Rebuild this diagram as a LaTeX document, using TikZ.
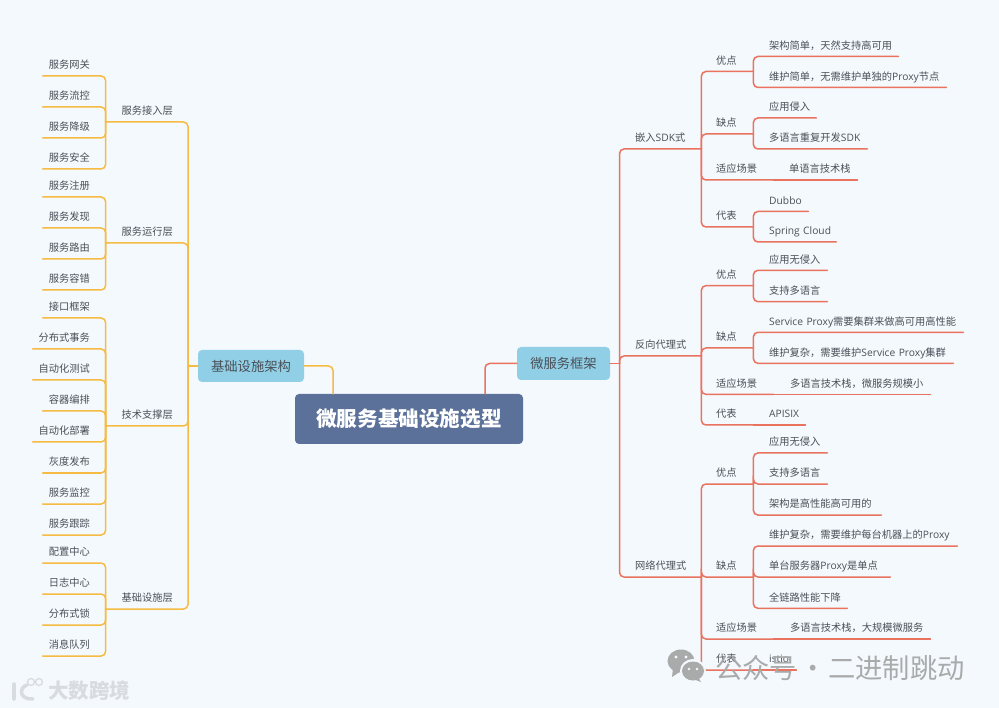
\documentclass[tikz,border=0pt]{standalone}
\usepackage{fontspec}
\setmainfont{Noto Sans CJK SC}
\newfontfamily\latn{Open Sans}
\definecolor{pagebg}{HTML}{F4F9FE}
\definecolor{rootblue}{HTML}{5B7199}
\definecolor{boxblue}{HTML}{90CFE5}
\definecolor{inkgray}{HTML}{4B5058}
\definecolor{redline}{HTML}{E9735F}
\definecolor{yelline}{HTML}{F6BB43}
\definecolor{markgray}{HTML}{A9ABAB}
\definecolor{marklight}{HTML}{D9DCDF}
\tikzset{
  rline/.style={draw=redline,line width=1.5pt,line cap=round},
  yline/.style={draw=yelline,line width=1.5pt,line cap=round},
  rjoin/.style={rline,rounded corners=4.5pt},
  yjoin/.style={yline,rounded corners=4.5pt},
  label/.style={inner sep=0pt,text=inkgray,text height=9pt,text depth=7pt,
    font=\fontsize{10.25}{12}\selectfont},
  rtopic/.style={label,anchor=south west,align=left,text width=#1},
  ytopic/.style={label,anchor=south east,align=right,text width=#1},
  midbox/.style={fill=boxblue,rounded corners=4pt,text=inkgray,inner sep=0pt,
    font=\fontsize{13.3}{15}\selectfont},
}
\begin{document}
\begin{tikzpicture}[x=1pt,y=-1pt]
  \useasboundingbox (0,0) rectangle (999,708);
  \fill[pagebg] (0,0) rectangle (999,708);
  % Centre
  \node[fill=rootblue,rounded corners=4pt,text=white,minimum width=228pt,minimum height=50pt,inner sep=0pt,
    font=\fontsize{20.6}{24}\selectfont\bfseries] (root) at (409,419) {微服务基础设施选型};
  \node[midbox,minimum width=106pt,minimum height=32pt] (infra) at (251,366) {基础设施架构};
  \node[midbox,minimum width=93pt,minimum height=33pt] (frame) at (563.5,363.5) {微服务框架};
  \coordinate (rootl) at (333,394);
  \coordinate (rootr) at (485,394);
  \coordinate (ltrunk) at (188,366);
  \coordinate (rtrunk) at (619.5,363.5);
  \draw[yjoin] (rootl) |- (infra.east);
  \draw[rjoin] (rootr) |- (frame.west);
  \draw[yline] (infra.west) -- (ltrunk);
  \draw[rline] (frame.east) -- (rtrunk);
  % Left side, second level
  \node[ytopic=67pt] (access) at (173,122) {服务接入层};
  \node[ytopic=67pt] (runtime) at (173,243) {服务运行层};
  \node[ytopic=67pt] (support) at (173,426) {技术支撑层};
  \node[ytopic=67pt] (base) at (173,609) {基础设施层};
  \draw[yjoin] (ltrunk) |- (access.south east) -- (access.south west);
  \draw[yjoin] (ltrunk) |- (runtime.south east) -- (runtime.south west);
  \draw[yjoin] (ltrunk) |- (support.south east) -- (support.south west);
  \draw[yjoin] (ltrunk) |- (base.south east) -- (base.south west);
  % Left side, leaves
  \node[ytopic=47pt] (gateway) at (90,76) {服务网关};
  \node[ytopic=47pt] (flowctl) at (90,107) {服务流控};
  \node[ytopic=47pt] (degrade) at (90,138) {服务降级};
  \node[ytopic=47pt] (secure) at (90,169) {服务安全};
  \node[ytopic=47pt] (regist) at (90,197) {服务注册};
  \node[ytopic=47pt] (discover) at (90,228) {服务发现};
  \node[ytopic=47pt] (routing) at (90,259) {服务路由};
  \node[ytopic=47pt] (faulttol) at (90,290) {服务容错};
  \node[ytopic=47pt] (iface) at (90,318) {接口框架};
  \node[ytopic=57pt] (distx) at (90,349) {分布式事务};
  \node[ytopic=57pt] (autotest) at (90,380) {自动化测试};
  \node[ytopic=47pt] (orch) at (90,411) {容器编排};
  \node[ytopic=57pt] (autodep) at (90,442) {自动化部署};
  \node[ytopic=47pt] (gray) at (90,473) {灰度发布};
  \node[ytopic=47pt] (monitor) at (90,504) {服务监控};
  \node[ytopic=47pt] (trace) at (90,535) {服务跟踪};
  \node[ytopic=47pt] (config) at (90,563) {配置中心};
  \node[ytopic=47pt] (logs) at (90,594) {日志中心};
  \node[ytopic=47pt] (dlock) at (90,625) {分布式锁};
  \node[ytopic=47pt] (mqueue) at (90,656) {消息队列};
  \draw[yjoin] (access.south west) |- (gateway.south east) -- (gateway.south west);
  \draw[yjoin] (access.south west) |- (flowctl.south east) -- (flowctl.south west);
  \draw[yjoin] (access.south west) |- (degrade.south east) -- (degrade.south west);
  \draw[yjoin] (access.south west) |- (secure.south east) -- (secure.south west);
  \draw[yjoin] (runtime.south west) |- (regist.south east) -- (regist.south west);
  \draw[yjoin] (runtime.south west) |- (discover.south east) -- (discover.south west);
  \draw[yjoin] (runtime.south west) |- (routing.south east) -- (routing.south west);
  \draw[yjoin] (runtime.south west) |- (faulttol.south east) -- (faulttol.south west);
  \draw[yjoin] (support.south west) |- (iface.south east) -- (iface.south west);
  \draw[yjoin] (support.south west) |- (distx.south east) -- (distx.south west);
  \draw[yjoin] (support.south west) |- (autotest.south east) -- (autotest.south west);
  \draw[yjoin] (support.south west) |- (orch.south east) -- (orch.south west);
  \draw[yjoin] (support.south west) |- (autodep.south east) -- (autodep.south west);
  \draw[yjoin] (support.south west) |- (gray.south east) -- (gray.south west);
  \draw[yjoin] (support.south west) |- (monitor.south east) -- (monitor.south west);
  \draw[yjoin] (support.south west) |- (trace.south east) -- (trace.south west);
  \draw[yjoin] (base.south west) |- (config.south east) -- (config.south west);
  \draw[yjoin] (base.south west) |- (logs.south east) -- (logs.south west);
  \draw[yjoin] (base.south west) |- (dlock.south east) -- (dlock.south west);
  \draw[yjoin] (base.south west) |- (mqueue.south east) -- (mqueue.south west);
  % Right side, second level
  \node[rtopic=66pt] (sdk) at (635,149) {嵌入{\latn SDK}式};
  \node[rtopic=66pt] (revproxy) at (635,356) {反向代理式};
  \node[rtopic=66pt] (netproxy) at (635,577) {网络代理式};
  \draw[rjoin] (rtrunk) |- (sdk.south west) -- (sdk.south east);
  \draw[rjoin] (rtrunk) |- (revproxy.south west) -- (revproxy.south east);
  \draw[rjoin] (rtrunk) |- (netproxy.south west) -- (netproxy.south east);
  % Embedded SDK
  \node[rtopic=37pt] (sdkgood) at (716,71.5) {优点};
  \node[rtopic=37pt] (sdkbad) at (716,134) {缺点};
  \node[rtopic=57pt] (sdkuse) at (716,180) {适应场景};
  \node[rtopic=37pt] (sdkrep) at (716,227) {代表};
  \draw[rjoin] (sdk.south east) |- (sdkgood.south west) -- (sdkgood.south east);
  \draw[rjoin] (sdk.south east) |- (sdkbad.south west) -- (sdkbad.south east);
  \draw[rjoin] (sdk.south east) |- (sdkuse.south west) -- (sdkuse.south east);
  \draw[rjoin] (sdk.south east) |- (sdkrep.south west) -- (sdkrep.south east);
  \node[rtopic=129pt] (sdkgooda) at (769,56.5) {架构简单，天然支持高可用};
  \node[rtopic=177pt] (sdkgoodb) at (769,87.5) {维护简单，无需维护单独的{\latn Proxy}节点};
  \node[rtopic=47pt] (sdkbada) at (769,118) {应用侵入};
  \node[rtopic=98pt] (sdkbadb) at (769,149) {多语言重复开发{\latn SDK}};
  \node[rtopic=68pt] (sdkusea) at (789,180) {单语言技术栈};
  \node[rtopic=39pt] (dubbo) at (769,211.5) {\latn Dubbo};
  \node[rtopic=67pt] (spring) at (769,242) {\latn Spring~Cloud};
  \draw[rjoin] (sdkgood.south east) |- (sdkgooda.south west) -- (sdkgooda.south east);
  \draw[rjoin] (sdkgood.south east) |- (sdkgoodb.south west) -- (sdkgoodb.south east);
  \draw[rjoin] (sdkbad.south east) |- (sdkbada.south west) -- (sdkbada.south east);
  \draw[rjoin] (sdkbad.south east) |- (sdkbadb.south west) -- (sdkbadb.south east);
  \draw[rline] (sdkuse.south east) -- (sdkusea.south west) -- (sdkusea.south east);
  \draw[rjoin] (sdkrep.south east) |- (dubbo.south west) -- (dubbo.south east);
  \draw[rjoin] (sdkrep.south east) |- (spring.south west) -- (spring.south east);
  % Reverse proxy
  \node[rtopic=37pt] (revgood) at (716,285.7) {优点};
  \node[rtopic=37pt] (revbad) at (716,348) {缺点};
  \node[rtopic=57pt] (revuse) at (716,394.3) {适应场景};
  \node[rtopic=37pt] (revrep) at (716,425) {代表};
  \draw[rjoin] (revproxy.south east) |- (revgood.south west) -- (revgood.south east);
  \draw[rjoin] (revproxy.south east) |- (revbad.south west) -- (revbad.south east);
  \draw[rjoin] (revproxy.south east) |- (revuse.south west) -- (revuse.south east);
  \draw[rjoin] (revproxy.south east) |- (revrep.south west) -- (revrep.south east);
  \node[rtopic=58pt] (revgooda) at (769,270.3) {应用无侵入};
  \node[rtopic=58pt] (revgoodb) at (769,301.7) {支持多语言};
  \node[rtopic=194pt] (revbada) at (769,332.3) {{\latn Service~Proxy}需要集群来做高可用高性能};
  \node[rtopic=184pt] (revbadb) at (769,363.3) {维护复杂，需要维护{\latn Service~Proxy}集群};
  \node[rtopic=140pt] (revusea) at (790,394.3) {多语言技术栈，微服务规模小};
  \node[rtopic=36pt] (apisix) at (769,425) {\latn APISIX};
  \draw[rjoin] (revgood.south east) |- (revgooda.south west) -- (revgooda.south east);
  \draw[rjoin] (revgood.south east) |- (revgoodb.south west) -- (revgoodb.south east);
  \draw[rjoin] (revbad.south east) |- (revbada.south west) -- (revbada.south east);
  \draw[rjoin] (revbad.south east) |- (revbadb.south west) -- (revbadb.south east);
  \draw[rline] (revuse.south east) -- (revusea.south west) -- (revusea.south east);
  \draw[rline] (revrep.south east) -- (apisix.south west) -- (apisix.south east);
  % Network proxy
  \node[rtopic=37pt] (netgood) at (716,484) {优点};
  \node[rtopic=37pt] (netbad) at (716,577) {缺点};
  \node[rtopic=57pt] (netuse) at (716,639) {适应场景};
  \node[rtopic=37pt] (netrep) at (716,670) {代表};
  \draw[rjoin] (netproxy.south east) |- (netgood.south west) -- (netgood.south east);
  \draw[rjoin] (netproxy.south east) |- (netbad.south west) -- (netbad.south east);
  \draw[rjoin] (netproxy.south east) |- (netuse.south west) -- (netuse.south east);
  \draw[rjoin] (netproxy.south east) |- (netrep.south west) -- (netrep.south east);
  \node[rtopic=58pt] (netgooda) at (769,453) {应用无侵入};
  \node[rtopic=58pt] (netgoodb) at (769,484) {支持多语言};
  \node[rtopic=112pt] (netgoodc) at (769,515) {架构是高性能高可用的};
  \node[rtopic=188pt] (netbada) at (769,546) {维护复杂，需要维护每台机器上的{\latn Proxy}};
  \node[rtopic=121pt] (netbadb) at (769,577) {单台服务器{\latn Proxy}是单点};
  \node[rtopic=78pt] (netbadc) at (769,608.3) {全链路性能下降};
  \node[rtopic=140pt] (netusea) at (790,639) {多语言技术栈，大规模微服务};
  \node[rtopic=27pt] (istio) at (769,670) {\latn istio};
  \draw[rjoin] (netgood.south east) |- (netgooda.south west) -- (netgooda.south east);
  \draw[rjoin] (netgood.south east) |- (netgoodb.south west) -- (netgoodb.south east);
  \draw[rjoin] (netgood.south east) |- (netgoodc.south west) -- (netgoodc.south east);
  \draw[rjoin] (netbad.south east) |- (netbada.south west) -- (netbada.south east);
  \draw[rjoin] (netbad.south east) |- (netbadb.south west) -- (netbadb.south east);
  \draw[rjoin] (netbad.south east) |- (netbadc.south west) -- (netbadc.south east);
  \draw[rline] (netuse.south east) -- (netusea.south west) -- (netusea.south east);
  \draw[rline] (netrep.south east) -- (istio.south west) -- (istio.south east);
  % Watermark, right
  \fill[markgray] (681,661) ellipse (13.5pt and 11.5pt);
  \fill[markgray] (673,668) -- (672,677) -- (681,671) -- cycle;
  \fill[pagebg] (693,671) ellipse (13pt and 12pt);
  \fill[markgray] (693,671) ellipse (11pt and 9.5pt);
  \fill[markgray] (698,677) -- (701,682) -- (693,679) -- cycle;
  \fill[pagebg] (676,657) circle (1.6pt) (686,657) circle (1.6pt)
    (689,669) circle (1.3pt) (697,669) circle (1.3pt);
  \node[inner sep=0pt,anchor=west,text=markgray,font=\fontsize{27.3}{30}\selectfont] (mpmark) at (715,668) {公众号\hspace{2pt}·\hspace{2pt}二进制跳动};
  % Watermark, left
  \draw[marklight,line width=3.5pt,line cap=round] (14,684) -- (14,699);
  \draw[marklight,line width=3.5pt,line cap=round] (27,685) .. controls (18,688) and (20,700) .. (33,699);
  \draw[marklight,line width=1.3pt] (31,682) circle (3.5pt) (39,682) circle (3.5pt);
  \node[inner sep=0pt,anchor=west,text=marklight,font=\fontsize{20.5}{24}\selectfont\bfseries] (bigmark) at (48,691) {大数跨境};
\end{tikzpicture}
\end{document}
